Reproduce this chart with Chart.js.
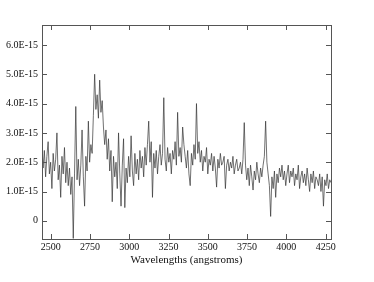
<!DOCTYPE html>
<html>
<head>
<meta charset="utf-8">
<script src="https://cdn.jsdelivr.net/npm/chart.js@4"></script>
<style>
  html, body { margin: 0; padding: 0; background: #fff; }
  canvas { display: block; }
</style>
</head>
<body>
<canvas id="myChart" width="374" height="282"></canvas>
<script>
// wavelengths in angstroms
const wavelengths = [
    2444,2452,2460,2468,2476,2484,2492,2500,2508,2516,
    2524,2532,2540,2548,2556,2564,2572,2580,2588,2596,
    2604,2612,2620,2628,2636,2644,2652,2660,2668,2676,
    2684,2692,2700,2708,2716,2724,2732,2740,2748,2756,
    2764,2772,2780,2788,2796,2804,2812,2820,2828,2836,
    2844,2852,2860,2868,2876,2884,2892,2900,2908,2916,
    2924,2932,2940,2948,2956,2964,2972,2980,2988,2996,
    3004,3012,3020,3028,3036,3044,3052,3060,3068,3076,
    3084,3092,3100,3108,3116,3124,3132,3140,3148,3156,
    3164,3172,3180,3188,3196,3204,3212,3220,3228,3236,
    3244,3252,3260,3268,3276,3284,3292,3300,3308,3316,
    3324,3332,3340,3348,3356,3364,3372,3380,3388,3396,
    3404,3412,3420,3428,3436,3444,3452,3460,3468,3476,
    3484,3492,3500,3508,3516,3524,3532,3540,3548,3556,
    3564,3572,3580,3588,3596,3604,3612,3620,3628,3636,
    3644,3652,3660,3668,3676,3684,3692,3700,3708,3716,
    3724,3732,3740,3748,3756,3764,3772,3780,3788,3796,
    3804,3812,3820,3828,3836,3844,3852,3860,3868,3876,
    3884,3892,3900,3908,3916,3924,3932,3940,3948,3956,
    3964,3972,3980,3988,3996,4004,4012,4020,4028,4036,
    4044,4052,4060,4068,4076,4084,4092,4100,4108,4116,
    4124,4132,4140,4148,4156,4164,4172,4180,4188,4196,
    4204,4212,4220,4228,4236,4244,4252,4260,4268,4276,
    4284
];

// flux, in units of 1E-15
const flux = [
    2.6, 1.8, 2.4, 1.5, 2.2, 2.7, 1.6, 2.0, 1.1, 2.3,
    1.7, 2.1, 3.0, 1.4, 1.9, 0.8, 2.2, 1.6, 2.5, 1.3,
    2.0, 1.2, 1.8, 0.9, 1.5, -0.6, 1.6, 3.9, 1.4, 2.1,
    1.2, 1.9, 3.1, 1.5, 0.5, 2.2, 1.7, 3.4, 2.0, 2.6,
    2.3, 3.6, 5.0, 3.8, 4.3, 3.5, 4.8, 3.7, 4.1, 3.2,
    2.6, 3.1, 2.1, 2.8, 1.7, 2.4, 0.65, 2.2, 1.5, 2.0,
    1.1, 3.0, 1.6, 0.5, 1.9, 2.8, 0.45, 1.8, 1.3, 2.2,
    1.5, 2.9, 1.7, 1.2, 2.3, 1.6, 2.1, 1.4, 2.4, 1.8,
    2.2, 1.5, 2.5, 1.9, 2.6, 3.4, 2.0, 2.7, 0.8, 2.3,
    1.8, 2.4, 1.6, 2.2, 2.6, 1.9, 2.3, 4.2, 2.1, 1.7,
    2.5, 2.0, 2.3, 1.6, 2.4, 2.1, 2.7, 1.9, 3.7, 2.2,
    2.5, 2.0, 3.2, 2.6, 2.2, 1.8, 2.4, 1.6, 1.2, 2.3,
    1.9, 2.6, 2.1, 4.0, 2.3, 2.7, 2.0, 2.4, 1.7, 2.2,
    2.0, 2.5, 1.6, 2.1, 1.9, 2.3, 1.7, 2.2, 1.8, 1.15,
    2.1, 1.8, 2.3, 1.9, 2.0, 2.2, 1.1, 1.9, 2.1, 1.7,
    2.0, 1.8, 2.2, 1.6, 1.9, 2.1, 1.7, 1.8, 2.0, 1.6,
    2.1, 3.35, 1.9, 1.4, 1.8, 1.2, 1.9, 1.5, 1.05, 1.7,
    1.4, 2.0, 1.6, 1.3, 1.8, 1.5, 1.9, 2.2, 3.4, 2.0,
    1.6, 1.2, 0.15, 1.5, 1.1, 1.7, 0.8, 1.6, 1.3, 1.8,
    1.5, 1.9, 1.4, 1.7, 1.2, 1.6, 1.9, 1.3, 1.7, 1.5,
    1.8, 1.2, 1.6, 1.4, 1.9, 1.1, 1.5, 1.7, 1.3, 1.6,
    1.2, 1.8, 1.4, 1.0, 1.6, 1.3, 1.7, 1.1, 1.5, 1.4,
    1.2, 1.6, 1.0, 1.5, 0.5, 1.4, 1.2, 1.6, 1.1, 1.4,
    1.3
];

const xTicks = [2500, 2750, 3000, 3250, 3500, 3750, 4000, 4250];
const yTicks = [0, 1, 2, 3, 4, 5, 6];

const axisColor = '#555';
const tickFont = { family: 'Liberation Serif', size: 10 };

// frame round the plot with inward tick marks on all four sides
const frame = {
    id: 'frame',
    afterDatasetsDraw(chart) {
        const { ctx, chartArea: a, scales } = chart;
        const len = 5;
        ctx.save();
        ctx.strokeStyle = axisColor;
        ctx.lineWidth = 1;
        ctx.strokeRect(a.left + 0.5, a.top + 0.5, a.right - a.left, a.bottom - a.top);
        ctx.beginPath();
        xTicks.forEach(v => {
            const x = Math.round(scales.x.getPixelForValue(v)) + 0.5;
            ctx.moveTo(x, a.bottom); ctx.lineTo(x, a.bottom - len);
            ctx.moveTo(x, a.top); ctx.lineTo(x, a.top + len);
        });
        yTicks.forEach(v => {
            const y = Math.round(scales.y.getPixelForValue(v)) + 0.5;
            ctx.moveTo(a.left, y); ctx.lineTo(a.left + len, y);
            ctx.moveTo(a.right, y); ctx.lineTo(a.right - len, y);
        });
        ctx.stroke();
        ctx.restore();
    }
};

const ctx = document.getElementById('myChart');

new Chart(ctx, {
    type: 'line',
    data: {
        datasets: [{
            data: wavelengths.map((w, i) => ({ x: w, y: flux[i] })),
            borderColor: '#333',
            borderWidth: 0.7,
            pointRadius: 0,
            tension: 0,
            fill: false
        }]
    },
    options: {
        responsive: false,
        animation: false,
        events: [],
        layout: { padding: { left: 0, top: 25, right: 43, bottom: 0 } },
        plugins: {
            legend: { display: false },
            tooltip: { enabled: false }
        },
        scales: {
            x: {
                type: 'linear',
                min: 2445,
                max: 4284,
                grid: { display: false, drawTicks: false },
                border: { display: false },
                afterBuildTicks: s => { s.ticks = xTicks.map(v => ({ value: v })); },
                afterFit: s => { s.height = 43; },
                ticks: {
                    font: tickFont,
                    color: '#111',
                    padding: 2,
                    maxRotation: 0,
                    callback: v => String(v)
                },
                title: {
                    display: true,
                    text: 'Wavelengths (angstroms)',
                    font: { family: 'Liberation Serif', size: 11 },
                    color: '#111',
                    padding: { top: 0, bottom: 15 }
                }
            },
            y: {
                min: -0.62,
                max: 6.68,
                grid: { display: false, drawTicks: false },
                border: { display: false },
                afterBuildTicks: s => { s.ticks = yTicks.map(v => ({ value: v })); },
                afterFit: s => { s.width = 42; },
                ticks: {
                    font: tickFont,
                    color: '#111',
                    padding: 4,
                    callback: v => v === 0 ? '0' : v.toFixed(1) + 'E-15'
                }
            }
        }
    },
    plugins: [frame]
});
</script>
</body>
</html>
